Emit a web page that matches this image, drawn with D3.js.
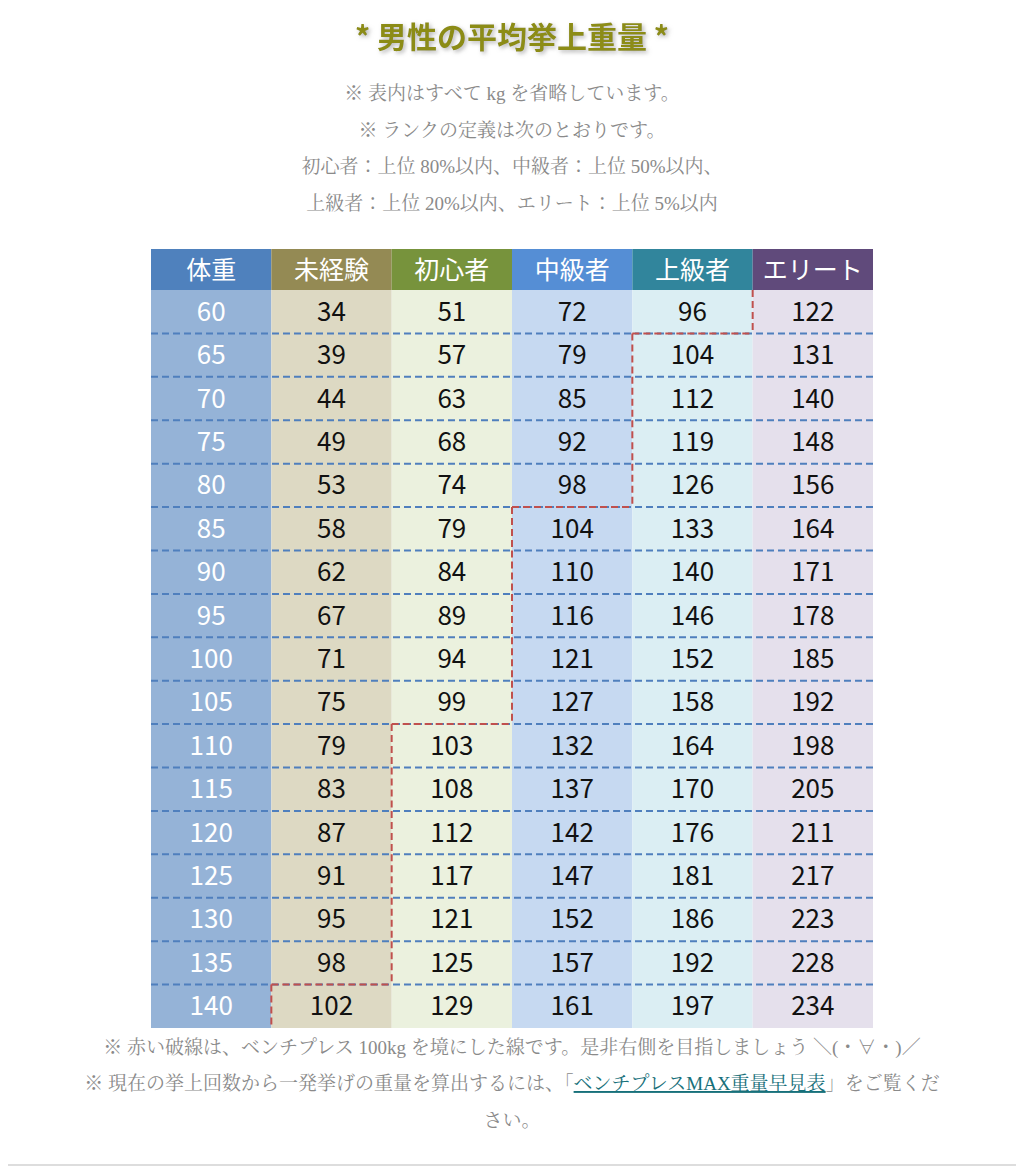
<!DOCTYPE html>
<html><head><meta charset="utf-8">
<script src="https://cdn.jsdelivr.net/npm/d3@7"></script>
<style>
body{margin:0;background:#fff;}
svg text{font-family:"Noto Sans CJK JP",sans-serif;}
.note{font-family:"Liberation Serif","Noto Serif CJK JP","Noto Sans CJK JP",serif;fill:#8a8a8a;font-size:19px;}
</style></head>
<body>
<script>
var headers = ["体重", "未経験", "初心者", "中級者", "上級者", "エリート"];
var weights = [60, 65, 70, 75, 80, 85, 90, 95, 100, 105, 110, 115, 120, 125, 130, 135, 140];
var untrained = [34, 39, 44, 49, 53, 58, 62, 67, 71, 75, 79, 83, 87, 91, 95, 98, 102];
var beginner = [51, 57, 63, 68, 74, 79, 84, 89, 94, 99, 103, 108, 112, 117, 121, 125, 129];
var intermediate = [72, 79, 85, 92, 98, 104, 110, 116, 121, 127, 132, 137, 142, 147, 152, 157, 161];
var advanced = [96, 104, 112, 119, 126, 133, 140, 146, 152, 158, 164, 170, 176, 181, 186, 192, 197];
var elite = [122, 131, 140, 148, 156, 164, 171, 178, 185, 192, 198, 205, 211, 217, 223, 228, 234];
var notes = ["※ 表内はすべて kg を省略しています。", "※ ランクの定義は次のとおりです。",
  "初心者：上位 80%以内、中級者：上位 50%以内、", "上級者：上位 20%以内、エリート：上位 5%以内"];

var headColors = ["#4f81bd", "#948a54", "#77933c", "#558ed5", "#31859c", "#604a7b"];
var bodyColors = ["#95b3d7", "#ddd9c3", "#ebf1de", "#c6d9f1", "#dbeef3", "#e5e0ec"];

var cols = [weights, untrained, beginner, intermediate, advanced, elite];

var svg = d3.select("body").append("svg").attr("width", 1024).attr("height", 1168);

var defs = svg.append("defs");
var f = defs.append("filter").attr("id", "sh").attr("x", "-10%").attr("y", "-30%").attr("width", "120%").attr("height", "160%");
f.append("feDropShadow").attr("dx", 2).attr("dy", 2).attr("stdDeviation", 2).attr("flood-color", "#999").attr("flood-opacity", 0.7);

svg.append("text").attr("x", 512).attr("y", 48).attr("text-anchor", "middle")
	.attr("font-size", 30).attr("font-weight", "bold").attr("fill", "#8c8c14")
	.attr("filter", "url(#sh)").text("* 男性の平均挙上重量 *");

svg.selectAll("text.top").data(notes).enter().append("text").attr("class", "note")
	.attr("x", 512).attr("y", function(d, i) { return 100 + i * 36.7; })
	.attr("text-anchor", "middle").text(function(d) { return d; });

var x = d3.scaleBand().domain(d3.range(6)).range([151, 873]);
var y = d3.scaleBand().domain(d3.range(weights.length)).range([290, 1028]);
var headTop = 249;

var g = svg.append("g");
// column backgrounds
g.selectAll("rect.col").data(d3.range(6)).enter().append("rect")
	.attr("x", function(i) { return x(i); }).attr("y", y.range()[0])
	.attr("width", x.bandwidth()).attr("height", y.range()[1] - y.range()[0])
	.attr("fill", function(i) { return bodyColors[i]; });
g.selectAll("rect.head").data(d3.range(6)).enter().append("rect")
	.attr("x", function(i) { return x(i); }).attr("y", headTop)
	.attr("width", x.bandwidth()).attr("height", y.range()[0] - headTop)
	.attr("fill", function(i) { return headColors[i]; });
g.selectAll("text.head").data(headers).enter().append("text")
	.attr("x", function(d, i) { return x(i) + x.bandwidth() / 2; }).attr("y", 279)
	.attr("text-anchor", "middle").attr("fill", "#fff").attr("font-size", 25)
	.text(function(d) { return d; });

// row separators
g.selectAll("line.sep").data(d3.range(1, weights.length)).enter().append("line")
	.attr("x1", 151).attr("x2", 873)
	.attr("y1", function(r) { return y(r); }).attr("y2", function(r) { return y(r); })
	.attr("stroke", "#4f7fbd").attr("stroke-width", 2).attr("stroke-dasharray", "7,4");

// cells
cols.forEach(function(vals, c) {
	g.selectAll("text.c" + c).data(vals).enter().append("text")
		.attr("x", x(c) + x.bandwidth() / 2)
		.attr("y", function(d, r) { return y(r) + y.bandwidth() / 2 + 9; })
		.attr("text-anchor", "middle").attr("font-size", 26)
		.attr("fill", c === 0 ? "#fff" : "#111")
		.text(function(d) { return d; });
});

// red 100kg boundary
var firstIdx = weights.map(function(w, r) {
	for (var c = 1; c < 6; c++) if (cols[c][r] >= 100) return c;
	return 6;
});
var red = [];
firstIdx.forEach(function(c, r) {
	red.push([x(c), y(r), x(c), y(r) + y.bandwidth()]);
	if (r > 0 && firstIdx[r - 1] !== c) red.push([x(c), y(r), x(firstIdx[r - 1]), y(r)]);
});
g.selectAll("line.red").data(red).enter().append("line")
	.attr("x1", function(d) { return d[0]; }).attr("y1", function(d) { return d[1]; })
	.attr("x2", function(d) { return d[2]; }).attr("y2", function(d) { return d[3]; })
	.attr("stroke", "#c0504d").attr("stroke-width", 2).attr("stroke-dasharray", "7,4");

// bottom notes
svg.append("text").attr("class", "note").attr("x", 512).attr("y", 1054).attr("text-anchor", "middle")
	.text("※ 赤い破線は、ベンチプレス 100kg を境にした線です。是非右側を目指しましょう ＼(・∀・)／");
var t2 = svg.append("text").attr("class", "note").attr("x", 512).attr("y", 1090).attr("text-anchor", "middle");
t2.append("tspan").text("※ 現在の挙上回数から一発挙げの重量を算出するには、「");
t2.append("tspan").attr("fill", "#17707a").attr("text-decoration", "underline").text("ベンチプレスMAX重量早見表");
t2.append("tspan").text("」をご覧くだ");
svg.append("text").attr("class", "note").attr("x", 512).attr("y", 1127).attr("text-anchor", "middle").text("さい。");

svg.append("line").attr("x1", 8).attr("x2", 1016).attr("y1", 1165).attr("y2", 1165)
	.attr("stroke", "#ddd").attr("stroke-width", 2);
</script>
</body></html>
